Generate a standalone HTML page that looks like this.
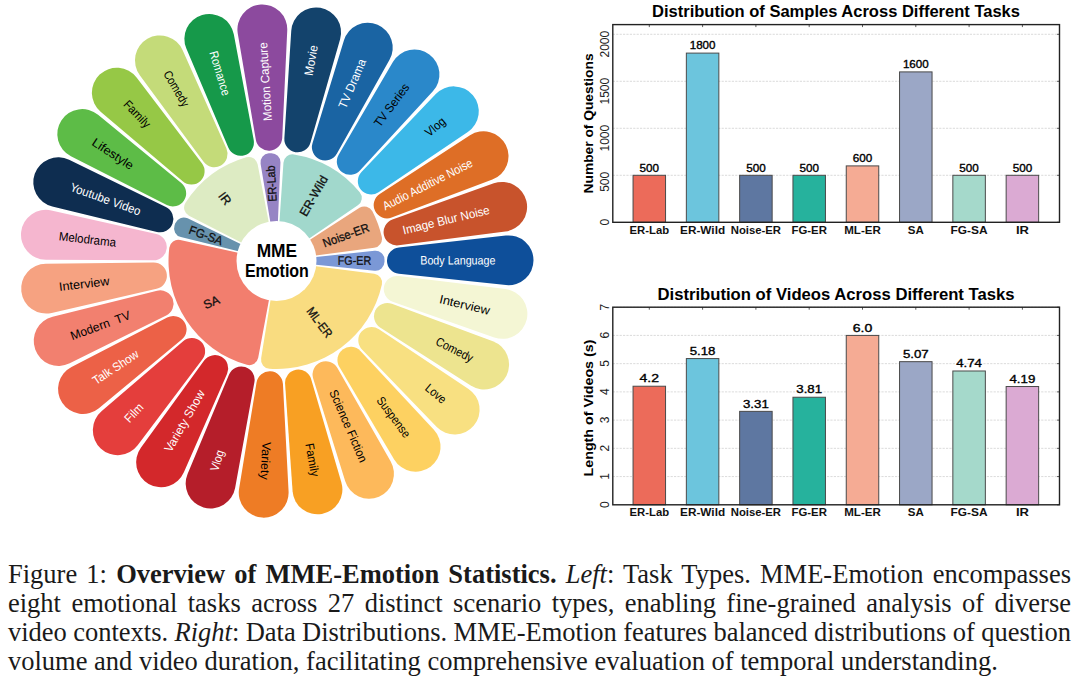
<!DOCTYPE html>
<html><head><meta charset="utf-8"><style>
html,body{margin:0;padding:0;background:#fff;width:1080px;height:683px;overflow:hidden}
svg{position:absolute;left:0;top:0}
.pt{font-family:"Liberation Sans",sans-serif;font-size:12.2px}
.st{font-family:"Liberation Sans",sans-serif;font-size:12.2px;fill:#111;stroke:#111;stroke-width:0.3px}
.ct{font-family:"Liberation Sans",sans-serif;font-size:18px;font-weight:bold;fill:#000}
.tt{font-family:"Liberation Sans",sans-serif;font-size:16px;font-weight:bold;fill:#000}
.ay{font-family:"Liberation Sans",sans-serif;font-size:13.5px;font-weight:bold;fill:#000}
.vl{font-family:"Liberation Sans",sans-serif;font-size:11px;fill:#000;stroke:#000;stroke-width:0.35px}
.xl{font-family:"Liberation Sans",sans-serif;font-size:11px;font-weight:bold;fill:#111}
.yl{font-family:"Liberation Sans",sans-serif;font-size:12px;fill:#222}
#cap{position:absolute;left:8px;top:559.7px;width:1063px;font-family:"Liberation Serif",serif;font-size:26.5px;line-height:29.07px;color:#1a1a1a}
#cap div{text-align:justify;text-align-last:justify;white-space:nowrap}
#cap div.last{text-align-last:left}
</style></head><body>
<svg width="1080" height="683" viewBox="0 0 1080 683">
<path d="M255.83,139.66 L237.76,33.55 A24.93,24.93 0 1 1 287.24,30.52 L282.23,138.05 A13.30,13.30 0 0 1 255.83,139.66 Z" fill="#8C4A9E"/>
<path d="M284.37,138.17 L291.25,30.75 A24.93,24.93 0 1 1 340.10,39.21 L310.43,142.69 A13.30,13.30 0 0 1 284.37,138.17 Z" fill="#13436C"/>
<path d="M312.49,143.29 L343.96,40.35 A24.93,24.93 0 1 1 389.53,59.86 L336.80,153.70 A13.30,13.30 0 0 1 312.49,143.29 Z" fill="#1A64A3"/>
<path d="M338.66,154.77 L393.02,61.86 A24.93,24.93 0 1 1 432.87,91.35 L359.92,170.50 A13.30,13.30 0 0 1 338.66,154.77 Z" fill="#2A88CA"/>
<path d="M361.48,171.97 L435.81,94.10 A24.93,24.93 0 1 1 467.78,131.98 L378.54,192.17 A13.30,13.30 0 0 1 361.48,171.97 Z" fill="#3CB8E8"/>
<path d="M379.73,193.96 L470.00,135.34 A24.93,24.93 0 1 1 492.38,179.57 L391.66,217.56 A13.30,13.30 0 0 1 379.73,193.96 Z" fill="#DE6E26"/>
<path d="M392.40,219.58 L493.77,183.35 A24.93,24.93 0 1 1 505.34,231.55 L398.58,245.29 A13.30,13.30 0 0 1 392.40,219.58 Z" fill="#C8532C"/>
<path d="M398.83,247.42 L505.82,235.55 A24.93,24.93 0 1 1 505.96,285.12 L398.91,273.87 A13.30,13.30 0 0 1 398.83,247.42 Z" fill="#0E4F9A"/>
<path d="M398.67,276.00 L505.51,289.12 A24.93,24.93 0 1 1 494.22,337.39 L392.64,301.75 A13.30,13.30 0 0 1 398.67,276.00 Z" fill="#F4F6D4"/>
<path d="M391.91,303.77 L492.85,341.17 A24.93,24.93 0 1 1 470.73,385.54 L380.11,327.43 A13.30,13.30 0 0 1 391.91,303.77 Z" fill="#EDE48F"/>
<path d="M378.94,329.23 L468.53,388.90 A24.93,24.93 0 1 1 436.78,426.97 L362.00,349.54 A13.30,13.30 0 0 1 378.94,329.23 Z" fill="#F8E081"/>
<path d="M360.44,351.02 L433.86,429.74 A24.93,24.93 0 1 1 394.18,459.46 L339.28,366.87 A13.30,13.30 0 0 1 360.44,351.02 Z" fill="#FDD161"/>
<path d="M337.42,367.95 L390.70,461.48 A24.93,24.93 0 1 1 345.24,481.25 L313.17,378.49 A13.30,13.30 0 0 1 337.42,367.95 Z" fill="#FDB95B"/>
<path d="M311.11,379.12 L341.39,482.41 A24.93,24.93 0 1 1 292.59,491.16 L285.09,383.78 A13.30,13.30 0 0 1 311.11,379.12 Z" fill="#F8A023"/>
<path d="M282.94,383.91 L288.58,491.41 A24.93,24.93 0 1 1 239.08,488.67 L256.54,382.45 A13.30,13.30 0 0 1 282.94,383.91 Z" fill="#EE7C25"/>
<path d="M254.42,382.09 L235.11,487.98 A24.93,24.93 0 1 1 187.58,473.91 L229.07,374.58 A13.30,13.30 0 0 1 254.42,382.09 Z" fill="#B51E2A"/>
<path d="M227.09,373.73 L183.88,472.32 A24.93,24.93 0 1 1 140.88,447.66 L204.15,360.58 A13.30,13.30 0 0 1 227.09,373.73 Z" fill="#D3282B"/>
<path d="M202.43,359.30 L137.65,445.27 A24.93,24.93 0 1 1 101.49,411.35 L183.14,341.21 A13.30,13.30 0 0 1 202.43,359.30 Z" fill="#E43E3C"/>
<path d="M181.75,339.57 L98.89,408.28 A24.93,24.93 0 1 1 71.53,366.94 L167.16,317.51 A13.30,13.30 0 0 1 181.75,339.57 Z" fill="#EC6147"/>
<path d="M166.19,315.60 L69.72,363.35 A24.93,24.93 0 1 1 52.63,316.82 L157.07,290.78 A13.30,13.30 0 0 1 166.19,315.60 Z" fill="#F2806F"/>
<path d="M156.57,288.69 L51.69,312.90 A24.93,24.93 0 1 1 45.79,263.68 L153.43,262.43 A13.30,13.30 0 0 1 156.57,288.69 Z" fill="#F6A281"/>
<path d="M153.42,260.28 L45.78,259.66 A24.93,24.93 0 1 1 51.39,210.41 L156.41,234.01 A13.30,13.30 0 0 1 153.42,260.28 Z" fill="#F5B6CF"/>
<path d="M156.90,231.92 L52.31,206.49 A24.93,24.93 0 1 1 69.12,159.85 L165.87,207.04 A13.30,13.30 0 0 1 156.90,231.92 Z" fill="#0E2D50"/>
<path d="M166.83,205.12 L70.92,156.25 A24.93,24.93 0 1 1 98.04,114.76 L181.30,182.99 A13.30,13.30 0 0 1 166.83,205.12 Z" fill="#5DBC47"/>
<path d="M182.67,181.34 L100.62,111.67 A24.93,24.93 0 1 1 136.58,77.54 L201.86,163.13 A13.30,13.30 0 0 1 182.67,181.34 Z" fill="#96C846"/>
<path d="M203.58,161.85 L139.80,75.13 A24.93,24.93 0 1 1 182.66,50.22 L226.44,148.56 A13.30,13.30 0 0 1 203.58,161.85 Z" fill="#C4DB79"/>
<path d="M228.41,147.70 L186.35,48.62 A24.93,24.93 0 1 1 233.80,34.26 L253.72,140.04 A13.30,13.30 0 0 1 228.41,147.70 Z" fill="#16994A"/>
<text x="263.13" y="42.41" transform="rotate(-93.50 263.13 42.41)" text-anchor="end" dominant-baseline="central" class="pt" fill="#fff" textLength="78.60" lengthAdjust="spacingAndGlyphs">Motion Capture</text>
<text x="313.90" y="45.22" transform="rotate(-80.17 313.90 45.22)" text-anchor="end" dominant-baseline="central" class="pt" fill="#fff" textLength="30.70" lengthAdjust="spacingAndGlyphs">Movie</text>
<text x="362.66" y="59.66" transform="rotate(-66.83 362.66 59.66)" text-anchor="end" dominant-baseline="central" class="pt" fill="#fff" textLength="52.40" lengthAdjust="spacingAndGlyphs">TV Drama</text>
<text x="406.77" y="84.96" transform="rotate(-53.50 406.77 84.96)" text-anchor="end" dominant-baseline="central" class="pt" fill="#000" textLength="50.50" lengthAdjust="spacingAndGlyphs">TV Series</text>
<text x="443.85" y="119.74" transform="rotate(-40.17 443.85 119.74)" text-anchor="end" dominant-baseline="central" class="pt" fill="#000" textLength="22.31" lengthAdjust="spacingAndGlyphs">Vlog</text>
<text x="471.92" y="162.14" transform="rotate(-26.83 471.92 162.14)" text-anchor="end" dominant-baseline="central" class="pt" fill="#fff" textLength="99.17" lengthAdjust="spacingAndGlyphs">Audio Additive Noise</text>
<text x="489.45" y="209.88" transform="rotate(-13.50 489.45 209.88)" text-anchor="end" dominant-baseline="central" class="pt" fill="#fff" textLength="89.08" lengthAdjust="spacingAndGlyphs">Image Blur Noise</text>
<text x="495.50" y="260.36" transform="rotate(-0.17 495.50 260.36)" text-anchor="end" dominant-baseline="central" class="pt" fill="#fff" textLength="75.28" lengthAdjust="spacingAndGlyphs">Body Language</text>
<text x="489.74" y="310.88" transform="rotate(13.17 489.74 310.88)" text-anchor="end" dominant-baseline="central" class="pt" fill="#000" textLength="51.52" lengthAdjust="spacingAndGlyphs">Interview</text>
<text x="472.49" y="358.72" transform="rotate(26.50 472.49 358.72)" text-anchor="end" dominant-baseline="central" class="pt" fill="#000" textLength="40.23" lengthAdjust="spacingAndGlyphs">Comedy</text>
<text x="444.67" y="401.28" transform="rotate(39.83 444.67 401.28)" text-anchor="end" dominant-baseline="central" class="pt" fill="#000" textLength="23.16" lengthAdjust="spacingAndGlyphs">Love</text>
<text x="407.79" y="436.28" transform="rotate(53.17 407.79 436.28)" text-anchor="end" dominant-baseline="central" class="pt" fill="#000" textLength="47.62" lengthAdjust="spacingAndGlyphs">Suspense</text>
<text x="363.83" y="461.84" transform="rotate(66.50 363.83 461.84)" text-anchor="end" dominant-baseline="central" class="pt" fill="#000" textLength="78.00" lengthAdjust="spacingAndGlyphs">Science Fiction</text>
<text x="315.16" y="476.56" transform="rotate(79.83 315.16 476.56)" text-anchor="end" dominant-baseline="central" class="pt" fill="#000" textLength="33.90" lengthAdjust="spacingAndGlyphs">Family</text>
<text x="264.40" y="479.67" transform="rotate(93.17 264.40 479.67)" text-anchor="end" dominant-baseline="central" class="pt" fill="#000" textLength="37.80" lengthAdjust="spacingAndGlyphs">Variety</text>
<text x="214.30" y="470.98" transform="rotate(-73.50 214.30 470.98)" text-anchor="start" dominant-baseline="central" class="pt" fill="#fff" textLength="21.62" lengthAdjust="spacingAndGlyphs">Vlog</text>
<text x="167.55" y="450.98" transform="rotate(-60.17 167.55 450.98)" text-anchor="start" dominant-baseline="central" class="pt" fill="#fff" textLength="68.91" lengthAdjust="spacingAndGlyphs">Variety Show</text>
<text x="126.68" y="420.73" transform="rotate(-46.83 126.68 420.73)" text-anchor="start" dominant-baseline="central" class="pt" fill="#fff" textLength="21.27" lengthAdjust="spacingAndGlyphs">Film</text>
<text x="93.88" y="381.87" transform="rotate(-33.50 93.88 381.87)" text-anchor="start" dominant-baseline="central" class="pt" fill="#fff" textLength="52.40" lengthAdjust="spacingAndGlyphs">Talk Show</text>
<text x="70.93" y="336.50" transform="rotate(-20.17 70.93 336.50)" text-anchor="start" dominant-baseline="central" class="pt" fill="#000" textLength="62.90" lengthAdjust="spacingAndGlyphs">Modern&#160; TV</text>
<text x="59.06" y="287.06" transform="rotate(-6.83 59.06 287.06)" text-anchor="start" dominant-baseline="central" class="pt" fill="#000" textLength="50.60" lengthAdjust="spacingAndGlyphs">Interview</text>
<text x="58.91" y="236.21" transform="rotate(6.50 58.91 236.21)" text-anchor="start" dominant-baseline="central" class="pt" fill="#000" textLength="57.50" lengthAdjust="spacingAndGlyphs">Melodrama</text>
<text x="70.49" y="186.70" transform="rotate(19.83 70.49 186.70)" text-anchor="start" dominant-baseline="central" class="pt" fill="#fff" textLength="74.20" lengthAdjust="spacingAndGlyphs">Youtube Video</text>
<text x="93.18" y="141.19" transform="rotate(33.17 93.18 141.19)" text-anchor="start" dominant-baseline="central" class="pt" fill="#000" textLength="46.84" lengthAdjust="spacingAndGlyphs">Lifestyle</text>
<text x="125.75" y="102.14" transform="rotate(46.50 125.75 102.14)" text-anchor="start" dominant-baseline="central" class="pt" fill="#000" textLength="32.88" lengthAdjust="spacingAndGlyphs">Family</text>
<text x="166.45" y="71.66" transform="rotate(59.83 166.45 71.66)" text-anchor="start" dominant-baseline="central" class="pt" fill="#000" textLength="39.38" lengthAdjust="spacingAndGlyphs">Comedy</text>
<text x="213.08" y="51.38" transform="rotate(73.17 213.08 51.38)" text-anchor="start" dominant-baseline="central" class="pt" fill="#fff" textLength="45.76" lengthAdjust="spacingAndGlyphs">Romance</text>
<path d="M271.86,231.36 L260.59,163.73 A9.00,9.00 0 0 1 268.82,153.27 A108.00,108.00 0 0 1 270.99,153.14 A9.00,9.00 0 0 1 280.44,162.52 L277.49,231.02 A30.00,30.00 0 0 0 271.86,231.36 Z" fill="#9684C4"/>
<path d="M278.82,231.09 L283.45,162.68 A9.00,9.00 0 0 1 293.87,154.41 A108.00,108.00 0 0 1 359.73,192.17 A9.00,9.00 0 0 1 357.85,205.35 L301.14,243.89 A30.00,30.00 0 0 0 278.82,231.09 Z" fill="#A1D8CC"/>
<path d="M301.88,245.00 L359.51,207.86 A9.00,9.00 0 0 1 372.38,211.28 A108.00,108.00 0 0 1 381.76,236.85 A9.00,9.00 0 0 1 374.17,247.78 L306.20,256.77 A30.00,30.00 0 0 0 301.88,245.00 Z" fill="#E9A67D"/>
<path d="M306.36,258.09 L374.53,250.77 A9.00,9.00 0 0 1 384.49,259.60 A108.00,108.00 0 0 1 384.50,261.77 A9.00,9.00 0 0 1 374.59,270.66 L306.38,263.73 A30.00,30.00 0 0 0 306.36,258.09 Z" fill="#7B98D6"/>
<path d="M306.22,265.06 L374.25,273.65 A9.00,9.00 0 0 1 381.90,284.54 A108.00,108.00 0 0 1 269.45,368.77 A9.00,9.00 0 0 1 261.15,358.36 L272.03,290.67 A30.00,30.00 0 0 0 306.22,265.06 Z" fill="#F9DC80"/>
<path d="M270.72,290.44 L258.19,357.85 A9.00,9.00 0 0 1 246.87,364.86 A108.00,108.00 0 0 1 169.32,247.70 A9.00,9.00 0 0 1 180.20,240.02 L247.14,254.82 A30.00,30.00 0 0 0 270.72,290.44 Z" fill="#F27E6E"/>
<path d="M247.45,253.52 L180.88,237.09 A9.00,9.00 0 0 1 174.54,225.38 A108.00,108.00 0 0 1 175.28,223.34 A9.00,9.00 0 0 1 187.63,218.37 L249.36,248.21 A30.00,30.00 0 0 0 247.45,253.52 Z" fill="#6792AD"/>
<path d="M249.96,247.02 L188.97,215.68 A9.00,9.00 0 0 1 185.51,202.83 A108.00,108.00 0 0 1 246.27,157.32 A9.00,9.00 0 0 1 257.62,164.26 L270.55,231.60 A30.00,30.00 0 0 0 249.96,247.02 Z" fill="#DDEBC3"/>
<circle cx="276.5" cy="261.0" r="40" fill="#fff"/>
<text x="271.77" y="183.64" transform="rotate(-93.50 271.77 183.64)" text-anchor="middle" dominant-baseline="central" class="st" textLength="36" lengthAdjust="spacingAndGlyphs">ER-Lab</text>
<text x="313.81" y="195.94" transform="rotate(-60.17 313.81 195.94)" text-anchor="middle" dominant-baseline="central" class="st" textLength="44.7" lengthAdjust="spacingAndGlyphs">ER-Wild</text>
<text x="345.96" y="235.49" transform="rotate(-20.17 345.96 235.49)" text-anchor="middle" dominant-baseline="central" class="st" textLength="48.5" lengthAdjust="spacingAndGlyphs">Noise-ER</text>
<text x="354.50" y="260.77" transform="rotate(-0.17 354.50 260.77)" text-anchor="middle" dominant-baseline="central" class="st" textLength="33.4" lengthAdjust="spacingAndGlyphs">FG-ER</text>
<text x="319.46" y="322.53" transform="rotate(53.17 319.46 322.53)" text-anchor="middle" dominant-baseline="central" class="st" textLength="34.5" lengthAdjust="spacingAndGlyphs">ML-ER</text>
<text x="211.46" y="302.40" transform="rotate(-22.00 211.46 302.40)" text-anchor="middle" dominant-baseline="central" class="st" textLength="16.3" lengthAdjust="spacingAndGlyphs">SA</text>
<text x="205.95" y="235.55" transform="rotate(19.83 205.95 235.55)" text-anchor="middle" dominant-baseline="central" class="st" textLength="35" lengthAdjust="spacingAndGlyphs">FG-SA</text>
<text x="224.76" y="198.68" transform="rotate(53.17 224.76 198.68)" text-anchor="middle" dominant-baseline="central" class="st" textLength="12.5" lengthAdjust="spacingAndGlyphs">IR</text>
<text x="276.9" y="256.6" text-anchor="middle" class="ct" textLength="40.5" lengthAdjust="spacingAndGlyphs">MME</text>
<text x="276.9" y="277" text-anchor="middle" class="ct" textLength="64" lengthAdjust="spacingAndGlyphs">Emotion</text>
<line x1="612.8" y1="175.30" x2="1059.5" y2="175.30" stroke="#d2d2d2" stroke-width="0.8" stroke-dasharray="2.2,1.2"/>
<line x1="612.8" y1="128.30" x2="1059.5" y2="128.30" stroke="#d2d2d2" stroke-width="0.8" stroke-dasharray="2.2,1.2"/>
<line x1="612.8" y1="81.30" x2="1059.5" y2="81.30" stroke="#d2d2d2" stroke-width="0.8" stroke-dasharray="2.2,1.2"/>
<line x1="612.8" y1="34.30" x2="1059.5" y2="34.30" stroke="#d2d2d2" stroke-width="0.8" stroke-dasharray="2.2,1.2"/>
<rect x="633.05" y="175.30" width="32.5" height="47.00" fill="#EC6B5A" stroke="#4a4a4a" stroke-width="1"/>
<text x="649.30" y="171.50" text-anchor="middle" class="vl" textLength="19.5" lengthAdjust="spacingAndGlyphs">500</text>
<text x="649.30" y="233.70" text-anchor="middle" class="xl" textLength="39.5" lengthAdjust="spacingAndGlyphs">ER-Lab</text>
<line x1="649.30" y1="24.6" x2="649.30" y2="27.1" stroke="#333" stroke-width="0.8"/>
<rect x="686.35" y="53.10" width="32.5" height="169.20" fill="#6CC5DD" stroke="#4a4a4a" stroke-width="1"/>
<text x="702.60" y="49.30" text-anchor="middle" class="vl" textLength="25.8" lengthAdjust="spacingAndGlyphs">1800</text>
<text x="702.60" y="233.70" text-anchor="middle" class="xl" textLength="45" lengthAdjust="spacingAndGlyphs">ER-Wild</text>
<line x1="702.60" y1="24.6" x2="702.60" y2="27.1" stroke="#333" stroke-width="0.8"/>
<rect x="739.65" y="175.30" width="32.5" height="47.00" fill="#5E77A1" stroke="#4a4a4a" stroke-width="1"/>
<text x="755.90" y="171.50" text-anchor="middle" class="vl" textLength="19.5" lengthAdjust="spacingAndGlyphs">500</text>
<text x="755.90" y="233.70" text-anchor="middle" class="xl" textLength="50.3" lengthAdjust="spacingAndGlyphs">Noise-ER</text>
<line x1="755.90" y1="24.6" x2="755.90" y2="27.1" stroke="#333" stroke-width="0.8"/>
<rect x="792.95" y="175.30" width="32.5" height="47.00" fill="#26B29D" stroke="#4a4a4a" stroke-width="1"/>
<text x="809.20" y="171.50" text-anchor="middle" class="vl" textLength="19.5" lengthAdjust="spacingAndGlyphs">500</text>
<text x="809.20" y="233.70" text-anchor="middle" class="xl" textLength="35.4" lengthAdjust="spacingAndGlyphs">FG-ER</text>
<line x1="809.20" y1="24.6" x2="809.20" y2="27.1" stroke="#333" stroke-width="0.8"/>
<rect x="846.25" y="165.90" width="32.5" height="56.40" fill="#F5AB94" stroke="#4a4a4a" stroke-width="1"/>
<text x="862.50" y="162.10" text-anchor="middle" class="vl" textLength="19.5" lengthAdjust="spacingAndGlyphs">600</text>
<text x="862.50" y="233.70" text-anchor="middle" class="xl" textLength="36.6" lengthAdjust="spacingAndGlyphs">ML-ER</text>
<line x1="862.50" y1="24.6" x2="862.50" y2="27.1" stroke="#333" stroke-width="0.8"/>
<rect x="899.55" y="71.90" width="32.5" height="150.40" fill="#9BA7C6" stroke="#4a4a4a" stroke-width="1"/>
<text x="915.80" y="68.10" text-anchor="middle" class="vl" textLength="25.8" lengthAdjust="spacingAndGlyphs">1600</text>
<text x="915.80" y="233.70" text-anchor="middle" class="xl" textLength="16" lengthAdjust="spacingAndGlyphs">SA</text>
<line x1="915.80" y1="24.6" x2="915.80" y2="27.1" stroke="#333" stroke-width="0.8"/>
<rect x="952.85" y="175.30" width="32.5" height="47.00" fill="#A5D9CB" stroke="#4a4a4a" stroke-width="1"/>
<text x="969.10" y="171.50" text-anchor="middle" class="vl" textLength="19.5" lengthAdjust="spacingAndGlyphs">500</text>
<text x="969.10" y="233.70" text-anchor="middle" class="xl" textLength="37" lengthAdjust="spacingAndGlyphs">FG-SA</text>
<line x1="969.10" y1="24.6" x2="969.10" y2="27.1" stroke="#333" stroke-width="0.8"/>
<rect x="1006.15" y="175.30" width="32.5" height="47.00" fill="#DBAAD3" stroke="#4a4a4a" stroke-width="1"/>
<text x="1022.40" y="171.50" text-anchor="middle" class="vl" textLength="19.5" lengthAdjust="spacingAndGlyphs">500</text>
<text x="1022.40" y="233.70" text-anchor="middle" class="xl" textLength="13" lengthAdjust="spacingAndGlyphs">IR</text>
<line x1="1022.40" y1="24.6" x2="1022.40" y2="27.1" stroke="#333" stroke-width="0.8"/>
<line x1="1057.0" y1="222.30" x2="1059.5" y2="222.30" stroke="#333" stroke-width="0.8"/>
<text x="608.6" y="218.80" transform="rotate(-90 608.6 218.80)" text-anchor="end" class="yl">0</text>
<line x1="1057.0" y1="175.30" x2="1059.5" y2="175.30" stroke="#333" stroke-width="0.8"/>
<text x="608.6" y="171.80" transform="rotate(-90 608.6 171.80)" text-anchor="end" class="yl">500</text>
<line x1="1057.0" y1="128.30" x2="1059.5" y2="128.30" stroke="#333" stroke-width="0.8"/>
<text x="608.6" y="124.80" transform="rotate(-90 608.6 124.80)" text-anchor="end" class="yl">1000</text>
<line x1="1057.0" y1="81.30" x2="1059.5" y2="81.30" stroke="#333" stroke-width="0.8"/>
<text x="608.6" y="77.80" transform="rotate(-90 608.6 77.80)" text-anchor="end" class="yl">1500</text>
<line x1="1057.0" y1="34.30" x2="1059.5" y2="34.30" stroke="#333" stroke-width="0.8"/>
<text x="608.6" y="30.80" transform="rotate(-90 608.6 30.80)" text-anchor="end" class="yl">2000</text>
<rect x="612.8" y="24.6" width="446.70" height="197.70" fill="none" stroke="#222" stroke-width="1.4"/>
<text x="836" y="16.900000000000002" text-anchor="middle" class="tt" textLength="368" lengthAdjust="spacingAndGlyphs">Distribution of Samples Across Different Tasks</text>
<text x="593" y="123.45" transform="rotate(-90 593 123.45)" text-anchor="middle" class="ay" textLength="140" lengthAdjust="spacingAndGlyphs">Number of Questions</text>
<line x1="612.8" y1="476.57" x2="1059.5" y2="476.57" stroke="#d2d2d2" stroke-width="0.8" stroke-dasharray="2.2,1.2"/>
<line x1="612.8" y1="448.34" x2="1059.5" y2="448.34" stroke="#d2d2d2" stroke-width="0.8" stroke-dasharray="2.2,1.2"/>
<line x1="612.8" y1="420.11" x2="1059.5" y2="420.11" stroke="#d2d2d2" stroke-width="0.8" stroke-dasharray="2.2,1.2"/>
<line x1="612.8" y1="391.88" x2="1059.5" y2="391.88" stroke="#d2d2d2" stroke-width="0.8" stroke-dasharray="2.2,1.2"/>
<line x1="612.8" y1="363.65" x2="1059.5" y2="363.65" stroke="#d2d2d2" stroke-width="0.8" stroke-dasharray="2.2,1.2"/>
<line x1="612.8" y1="335.42" x2="1059.5" y2="335.42" stroke="#d2d2d2" stroke-width="0.8" stroke-dasharray="2.2,1.2"/>
<line x1="612.8" y1="307.19" x2="1059.5" y2="307.19" stroke="#d2d2d2" stroke-width="0.8" stroke-dasharray="2.2,1.2"/>
<rect x="633.05" y="386.23" width="32.5" height="118.57" fill="#EC6B5A" stroke="#4a4a4a" stroke-width="1"/>
<text x="649.30" y="382.43" text-anchor="middle" class="vl" textLength="19.5" lengthAdjust="spacingAndGlyphs">4.2</text>
<text x="649.30" y="516.20" text-anchor="middle" class="xl" textLength="39.5" lengthAdjust="spacingAndGlyphs">ER-Lab</text>
<line x1="649.30" y1="307.2" x2="649.30" y2="309.7" stroke="#333" stroke-width="0.8"/>
<rect x="686.35" y="358.57" width="32.5" height="146.23" fill="#6CC5DD" stroke="#4a4a4a" stroke-width="1"/>
<text x="702.60" y="354.77" text-anchor="middle" class="vl" textLength="25.8" lengthAdjust="spacingAndGlyphs">5.18</text>
<text x="702.60" y="516.20" text-anchor="middle" class="xl" textLength="45" lengthAdjust="spacingAndGlyphs">ER-Wild</text>
<line x1="702.60" y1="307.2" x2="702.60" y2="309.7" stroke="#333" stroke-width="0.8"/>
<rect x="739.65" y="411.36" width="32.5" height="93.44" fill="#5E77A1" stroke="#4a4a4a" stroke-width="1"/>
<text x="755.90" y="407.56" text-anchor="middle" class="vl" textLength="25.8" lengthAdjust="spacingAndGlyphs">3.31</text>
<text x="755.90" y="516.20" text-anchor="middle" class="xl" textLength="50.3" lengthAdjust="spacingAndGlyphs">Noise-ER</text>
<line x1="755.90" y1="307.2" x2="755.90" y2="309.7" stroke="#333" stroke-width="0.8"/>
<rect x="792.95" y="397.24" width="32.5" height="107.56" fill="#26B29D" stroke="#4a4a4a" stroke-width="1"/>
<text x="809.20" y="393.44" text-anchor="middle" class="vl" textLength="25.8" lengthAdjust="spacingAndGlyphs">3.81</text>
<text x="809.20" y="516.20" text-anchor="middle" class="xl" textLength="35.4" lengthAdjust="spacingAndGlyphs">FG-ER</text>
<line x1="809.20" y1="307.2" x2="809.20" y2="309.7" stroke="#333" stroke-width="0.8"/>
<rect x="846.25" y="335.42" width="32.5" height="169.38" fill="#F5AB94" stroke="#4a4a4a" stroke-width="1"/>
<text x="862.50" y="331.62" text-anchor="middle" class="vl" textLength="19.5" lengthAdjust="spacingAndGlyphs">6.0</text>
<text x="862.50" y="516.20" text-anchor="middle" class="xl" textLength="36.6" lengthAdjust="spacingAndGlyphs">ML-ER</text>
<line x1="862.50" y1="307.2" x2="862.50" y2="309.7" stroke="#333" stroke-width="0.8"/>
<rect x="899.55" y="361.67" width="32.5" height="143.13" fill="#9BA7C6" stroke="#4a4a4a" stroke-width="1"/>
<text x="915.80" y="357.87" text-anchor="middle" class="vl" textLength="25.8" lengthAdjust="spacingAndGlyphs">5.07</text>
<text x="915.80" y="516.20" text-anchor="middle" class="xl" textLength="16" lengthAdjust="spacingAndGlyphs">SA</text>
<line x1="915.80" y1="307.2" x2="915.80" y2="309.7" stroke="#333" stroke-width="0.8"/>
<rect x="952.85" y="370.99" width="32.5" height="133.81" fill="#A5D9CB" stroke="#4a4a4a" stroke-width="1"/>
<text x="969.10" y="367.19" text-anchor="middle" class="vl" textLength="25.8" lengthAdjust="spacingAndGlyphs">4.74</text>
<text x="969.10" y="516.20" text-anchor="middle" class="xl" textLength="37" lengthAdjust="spacingAndGlyphs">FG-SA</text>
<line x1="969.10" y1="307.2" x2="969.10" y2="309.7" stroke="#333" stroke-width="0.8"/>
<rect x="1006.15" y="386.52" width="32.5" height="118.28" fill="#DBAAD3" stroke="#4a4a4a" stroke-width="1"/>
<text x="1022.40" y="382.72" text-anchor="middle" class="vl" textLength="25.8" lengthAdjust="spacingAndGlyphs">4.19</text>
<text x="1022.40" y="516.20" text-anchor="middle" class="xl" textLength="13" lengthAdjust="spacingAndGlyphs">IR</text>
<line x1="1022.40" y1="307.2" x2="1022.40" y2="309.7" stroke="#333" stroke-width="0.8"/>
<line x1="1057.0" y1="504.80" x2="1059.5" y2="504.80" stroke="#333" stroke-width="0.8"/>
<text x="608.6" y="501.30" transform="rotate(-90 608.6 501.30)" text-anchor="end" class="yl">0</text>
<line x1="1057.0" y1="476.57" x2="1059.5" y2="476.57" stroke="#333" stroke-width="0.8"/>
<text x="608.6" y="473.07" transform="rotate(-90 608.6 473.07)" text-anchor="end" class="yl">1</text>
<line x1="1057.0" y1="448.34" x2="1059.5" y2="448.34" stroke="#333" stroke-width="0.8"/>
<text x="608.6" y="444.84" transform="rotate(-90 608.6 444.84)" text-anchor="end" class="yl">2</text>
<line x1="1057.0" y1="420.11" x2="1059.5" y2="420.11" stroke="#333" stroke-width="0.8"/>
<text x="608.6" y="416.61" transform="rotate(-90 608.6 416.61)" text-anchor="end" class="yl">3</text>
<line x1="1057.0" y1="391.88" x2="1059.5" y2="391.88" stroke="#333" stroke-width="0.8"/>
<text x="608.6" y="388.38" transform="rotate(-90 608.6 388.38)" text-anchor="end" class="yl">4</text>
<line x1="1057.0" y1="363.65" x2="1059.5" y2="363.65" stroke="#333" stroke-width="0.8"/>
<text x="608.6" y="360.15" transform="rotate(-90 608.6 360.15)" text-anchor="end" class="yl">5</text>
<line x1="1057.0" y1="335.42" x2="1059.5" y2="335.42" stroke="#333" stroke-width="0.8"/>
<text x="608.6" y="331.92" transform="rotate(-90 608.6 331.92)" text-anchor="end" class="yl">6</text>
<line x1="1057.0" y1="307.19" x2="1059.5" y2="307.19" stroke="#333" stroke-width="0.8"/>
<text x="608.6" y="303.69" transform="rotate(-90 608.6 303.69)" text-anchor="end" class="yl">7</text>
<rect x="612.8" y="307.2" width="446.70" height="197.60" fill="none" stroke="#222" stroke-width="1.4"/>
<text x="836" y="299.5" text-anchor="middle" class="tt" textLength="357" lengthAdjust="spacingAndGlyphs">Distribution of Videos Across Different Tasks</text>
<text x="593" y="408.00" transform="rotate(-90 593 408.00)" text-anchor="middle" class="ay" textLength="137" lengthAdjust="spacingAndGlyphs">Length of Videos (s)</text>
</svg>
<div id="cap">
<div>Figure 1: <b>Overview of MME-Emotion Statistics.</b> <i>Left</i>: Task Types. MME-Emotion encompasses</div>
<div>eight emotional tasks across 27 distinct scenario types, enabling fine-grained analysis of diverse</div>
<div style="word-spacing:-1px">video contexts. <i>Right</i>: Data Distributions. MME-Emotion features balanced distributions of question</div>
<div class="last">volume and video duration, facilitating comprehensive evaluation of temporal understanding.</div>
</div>
</body></html>
